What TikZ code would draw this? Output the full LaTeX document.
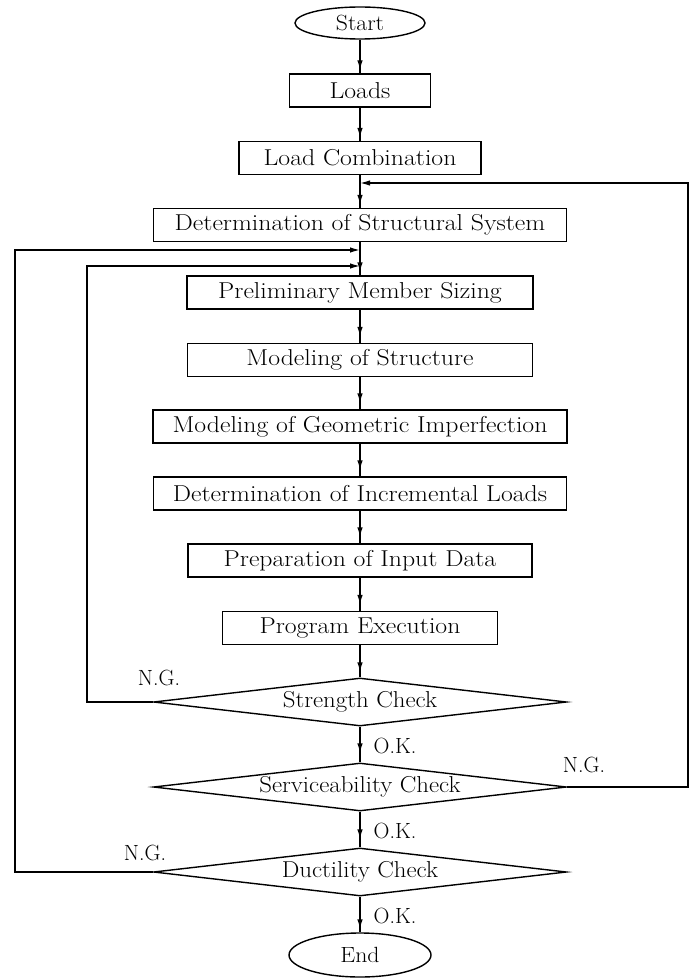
\documentclass[tikz,border=0pt]{standalone}
\usepackage{graphicx}
\usetikzlibrary{shapes.geometric,arrows.meta,decorations.markings}
\newcommand{\wideA}[1]{\scalebox{1.12}[1]{#1}}
\newcommand{\wideB}[1]{\scalebox{1.08}[1]{#1}}
\begin{document}
\begin{tikzpicture}[x=1pt,y=-1pt,
  lw/.style={line width=1.4pt},
  box/.style={draw, lw, minimum height=33pt, inner sep=0pt, font=\fontsize{23}{26}\selectfont},
  term/.style={draw, lw, ellipse, minimum width=130pt, minimum height=32pt, inner sep=0pt, font=\fontsize{22}{26}\selectfont},
  dia/.style={draw, lw, diamond, aspect=8.6, minimum width=413pt, minimum height=48pt, inner sep=0pt, font=\fontsize{23}{26}\selectfont},
  lbl/.style={inner sep=0pt, font=\fontsize{22}{26}\selectfont},
  flow/.style={lw, postaction={decorate}, decoration={markings, mark=at position #1 with {\arrow{Latex[length=10pt,width=5.5pt]}}}},
  flow/.default=-4pt,
  fb/.style={lw, -{Latex[length=10pt,width=5.5pt]}}
]
\useasboundingbox (0,0) rectangle (693,979);

\node[term] (start) at (360,23) {\wideB{Start}};
\node[box, minimum width=141pt] (loads) at (360,90.5) {\wideA{Loads}};
\node[box, minimum width=242pt] (comb) at (360,158) {\wideA{Load Combination}};
\node[box, minimum width=413pt] (sys) at (360,225) {\wideA{Determination of Structural System}};
\node[box, minimum width=346pt] (pre) at (360,292.5) {\wideA{Preliminary Member Sizing}};
\node[box, minimum width=345pt] (mod) at (360,360) {\wideA{Modeling of Structure}};
\node[box, minimum width=414pt] (geo) at (360,426.5) {\wideA{Modeling of Geometric Imperfection}};
\node[box, minimum width=413pt] (inc) at (360,493.5) {\wideA{Determination of Incremental Loads}};
\node[box, minimum width=344pt] (prep) at (360,560.5) {\wideA{Preparation of Input Data}};
\node[box, minimum width=275pt] (prog) at (360,628) {\wideA{Program Execution}};
\node[dia] (str) at (360,702) {\wideB{Strength Check}};
\node[dia] (ser) at (360,787) {\wideB{Serviceability Check}};
\node[dia] (duc) at (360,872) {\wideB{Ductility Check}};
\node[term, minimum width=142pt, minimum height=44pt] (end) at (360,955) {\wideB{End}};

\coordinate (jR) at (360,183);
\coordinate (jA) at (360,250);
\coordinate (jB) at (360,266);
\coordinate (rr) at (688,787);
\coordinate (l1) at (87,702);
\coordinate (l2) at (15,872);

\draw[flow=-3pt] (start.south) -- (loads.north);
\draw[flow=-3pt] (loads.south) -- (comb.north);
\draw[flow=-3pt] (comb.south) -- (sys.north);
\draw[flow=-3pt] (sys.south) -- (pre.north);
\draw[flow=-6pt] (pre.south) -- (mod.north);
\draw[flow=-6pt] (mod.south) -- (geo.north);
\draw[flow=-6pt] (geo.south) -- (inc.north);
\draw[flow=-6pt] (inc.south) -- (prep.north);
\draw[flow=-6pt] (prep.south) -- (prog.north);
\draw[flow=-5pt] (prog.south) -- (str.north);
\draw[flow=-9pt] (str.south) -- (ser.north);
\draw[flow=-8pt] (ser.south) -- (duc.north);
\draw[flow=-3pt] (duc.south) -- (end.north);

\draw[fb] (ser.east) -- (rr) |- (jR);
\draw[fb] (str.west) -- (l1) |- (jB);
\draw[fb] (duc.west) -- (l2) |- (jA);

\node[lbl] (ng1) at (159,678) {N.G.};
\node[lbl] (ng2) at (584,765) {N.G.};
\node[lbl] (ng3) at (145,853) {N.G.};
\node[lbl] (ok1) at (395,746) {O.K.};
\node[lbl] (ok2) at (395,831) {O.K.};
\node[lbl] (ok3) at (395,916) {O.K.};
\end{tikzpicture}
\end{document}
